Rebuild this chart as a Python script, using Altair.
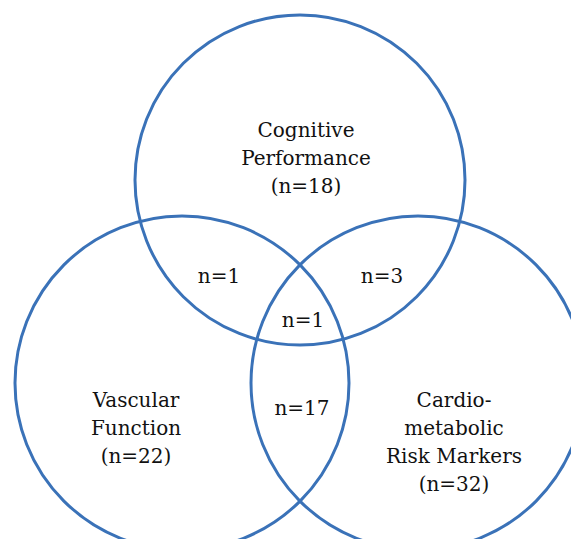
import altair as alt
import pandas as pd

# Venn sets (circle centres / radii in picture pixels)
set_names = ["Cognitive Performance", "Vascular Function", "Cardio-metabolic Risk Markers"]
circle_cx = [300, 182, 418]
circle_cy = [180, 383, 383]
circle_r = [165, 167, 167]

# Region labels
region_text = [
    "Cognitive\nPerformance\n(n=18)",
    "Vascular\nFunction\n(n=22)",
    "Cardio-\nmetabolic\nRisk Markers\n(n=32)",
    "n=1",
    "n=3",
    "n=1",
    "n=17",
]
label_x = [306, 136, 454, 219, 382, 303, 302]
label_y = [131, 401, 401, 277, 277, 321, 409]

circles = pd.DataFrame({
    "set": set_names,
    "x": circle_cx,
    "y": circle_cy,
    "size": [(2 * r) ** 2 for r in circle_r],
})
labels = pd.DataFrame({"text": region_text, "x": label_x, "y": label_y})

W, H = 563, 531
xs = alt.Scale(domain=[8, 8 + W], nice=False, zero=False)
ys = alt.Scale(domain=[8, 8 + H], nice=False, zero=False, reverse=True)

ring = alt.Chart(circles).mark_point(
    shape="circle", filled=False, stroke="#3a72b8", strokeWidth=3, opacity=1, clip=True
).encode(
    x=alt.X("x:Q", scale=xs, axis=None),
    y=alt.Y("y:Q", scale=ys, axis=None),
    size=alt.Size("size:Q", scale=None, legend=None),
)

text = alt.Chart(labels).mark_text(
    font="DejaVu Serif", fontSize=20, lineBreak="\n", lineHeight=28,
    align="center", baseline="middle", color="#111111"
).encode(
    x=alt.X("x:Q", scale=xs, axis=None),
    y=alt.Y("y:Q", scale=ys, axis=None),
    text="text:N",
)

chart = alt.layer(ring, text).properties(
    width=W, height=H, padding=0,
    autosize=alt.AutoSizeParams(type="none"),
    background="white",
).configure_view(stroke=None)

chart.save("out.html", embed_options={"renderer": "svg", "actions": False})
